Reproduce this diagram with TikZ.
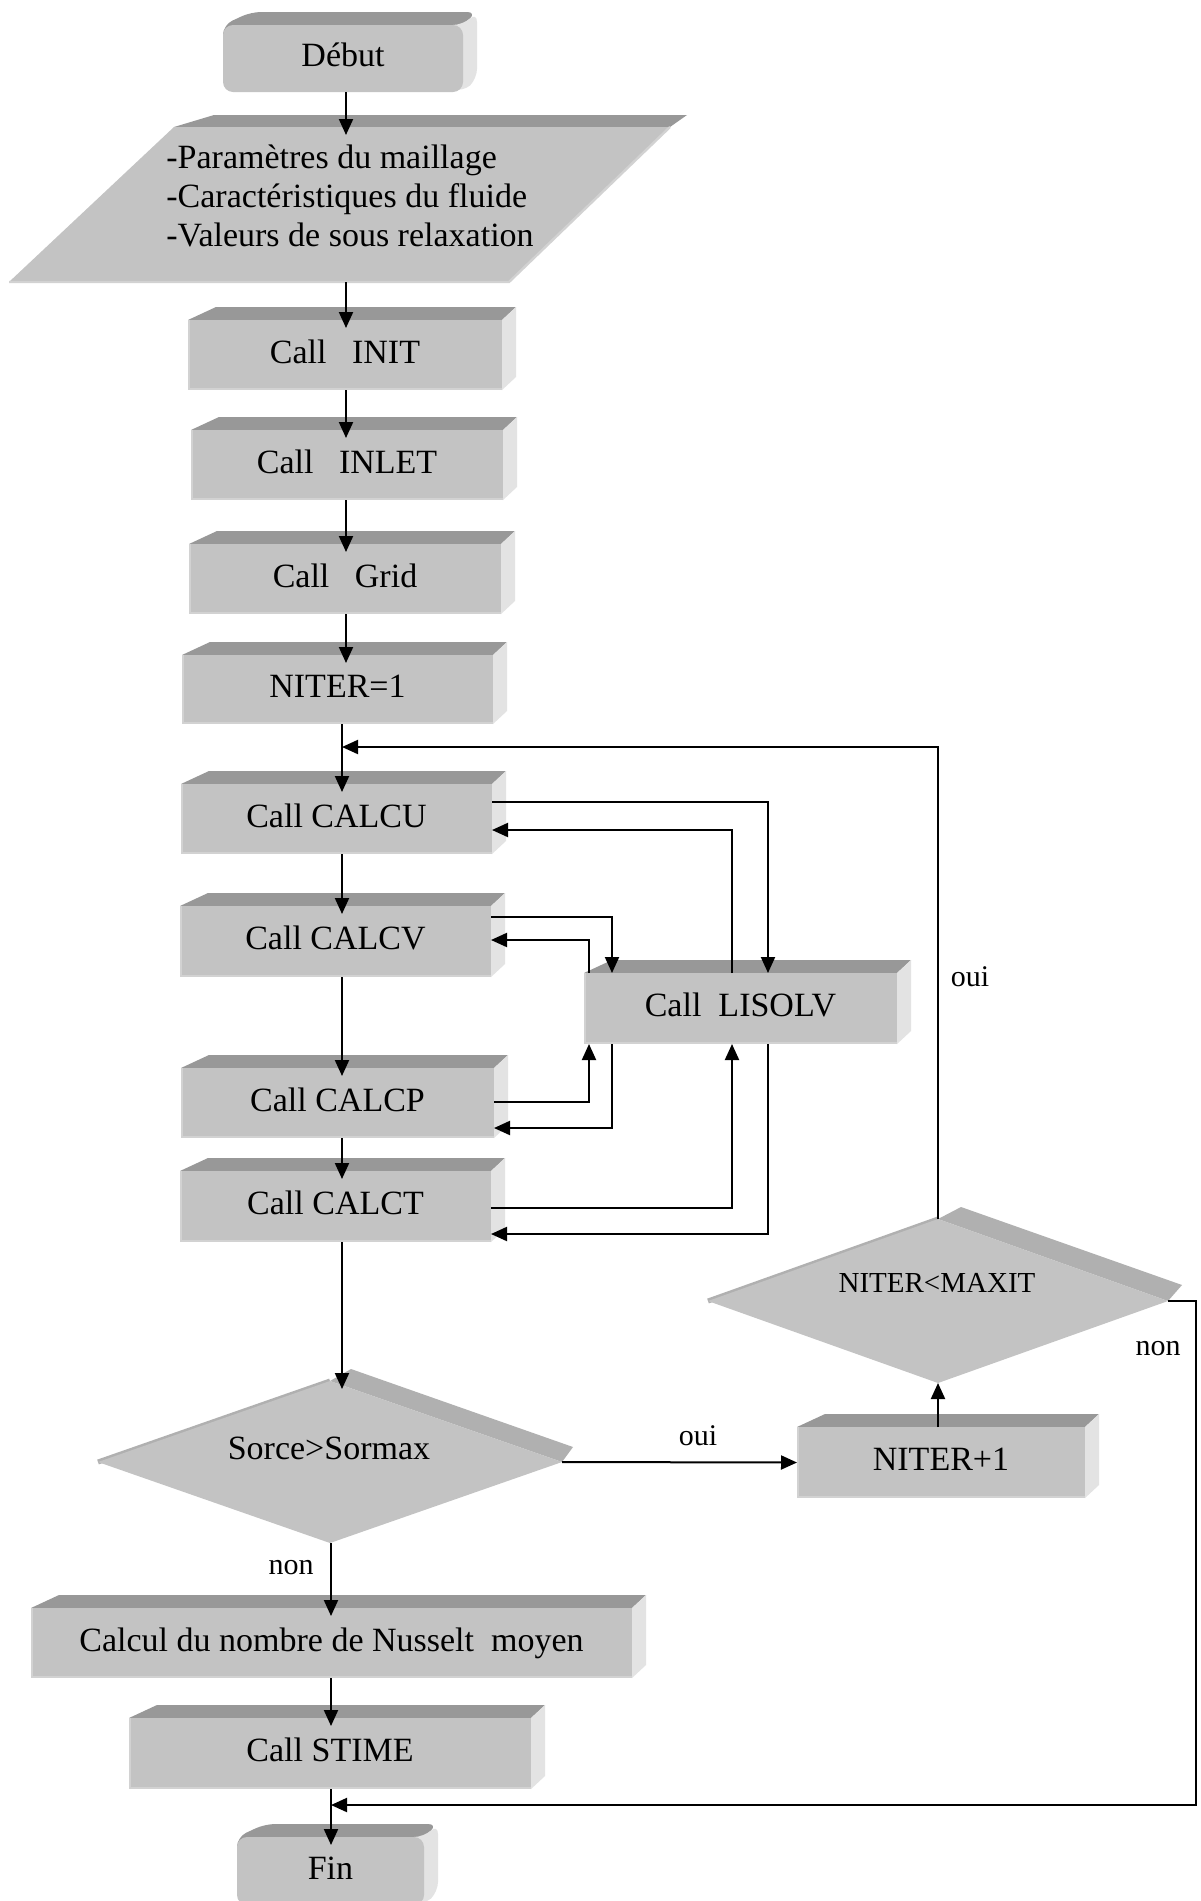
\documentclass[tikz,border=0pt]{standalone}
\usepackage{fontspec}
\setmainfont{Liberation Serif}
\usetikzlibrary{arrows.meta,shapes.geometric}
\pgfdeclarelayer{back}
\pgfsetlayers{back,main}
\definecolor{frontgray}{HTML}{C3C3C3}
\definecolor{topgray}{HTML}{989898}
\definecolor{sidegray}{HTML}{E3E3E3}
\definecolor{ridgegray}{HTML}{B0B0B0}
\definecolor{edgegray}{HTML}{D2D2D2}

\tikzset{
  face/.style={fill=frontgray, draw=none, inner sep=0pt, outer sep=0pt},
  sz/.style 2 args={minimum width=#1*0.5pt, minimum height=#2*0.5pt},
  stepbox/.style={face, rectangle, text height=12pt, text depth=4pt,
    font=\fontsize{17pt}{20pt}\selectfont},
  roundbox/.style={stepbox, rounded corners=5pt},
  testbox/.style={face, diamond},
  iofield/.style={rectangle, inner sep=0pt, outer sep=0pt},
  txt/.style={inner sep=0pt, font=\fontsize{17pt}{19.7pt}\selectfont},
  smalltxt/.style={inner sep=0pt, font=\fontsize{14.5pt}{17pt}\selectfont},
  lbl/.style={inner sep=0pt, font=\fontsize{15pt}{18pt}\selectfont},
  link/.style={line width=1pt},
  arr/.style={link, -{Triangle[length=8pt,width=7pt]}},
  into/.style={arr, shorten >=-4pt},
  rim/.style={edgegray, line width=1pt},
}

% top and right faces of an extruded box
\newcommand{\cubefaces}[2][]{%
  \fill[topgray,#1] (#2.west) -- (#2.north west) -- ++(28,-13)
    -- ([shift={(14,-13)}]#2.north east) -- (#2.north east) -- (#2.center) -- cycle;
  \fill[sidegray,#1] (#2.north) -- (#2.north east) -- ++(14,-13)
    -- ([shift={(14,-13)}]#2.south east) -- (#2.south east) -- (#2.center) -- cycle;
}
% light rim along the left and lower edges of a front face
\newcommand{\cuberim}[1]{%
  \draw[rim] ([shift={(1,0)}]#1.north west) -- ([shift={(1,-1)}]#1.south west)
    -- ([shift={(0,-1)}]#1.south east);
}
% raised edge of a decision diamond
\newcommand{\diamondfaces}[4]{%
  \fill[ridgegray] (#1.north) -- ++(#2,-12) -- ([shift={(#3,-#4)}]#1.east) -- (#1.east) -- cycle;
  \draw[ridgegray, line width=2.5pt] (#1.west) -- (#1.north);
}

\begin{document}
\begin{tikzpicture}[x=0.5pt,y=-0.5pt]
\useasboundingbox (0,0) rectangle (1200,1901);

% guide columns and rows for the connectors
\coordinate (sp1) at (346,0);
\coordinate (sp2) at (342,0);
\coordinate (sp3) at (331,0);
\coordinate (colA) at (589,0);
\coordinate (colB) at (612,0);
\coordinate (colC) at (732,0);
\coordinate (colD) at (768,0);
\coordinate (loopy) at (0,747);
\coordinate (nonc) at (1196,1805);

% blocks
\node[roundbox, sz={240}{67}] (debut) at (343,58.5) {Début};
\node[iofield, sz={661}{155}] (param) at (339.5,204.5) {};
\node[stepbox, sz={314}{70}] (init) at (345,355) {Call\ \ \ INIT};
\node[stepbox, sz={312}{70}] (inlet) at (347,465) {Call\ \ \ INLET};
\node[stepbox, sz={312}{70}] (grid) at (345,579) {Call\ \ \ Grid};
\node[stepbox, sz={311}{69}] (niter1) at (337.5,689.5) {NITER=1};
\node[stepbox, sz={311}{70}] (calcu) at (336.5,819) {Call CALCU};
\node[stepbox, sz={311}{71}] (calcv) at (335.5,941.5) {Call CALCV};
\node[stepbox, sz={313}{71}] (lisolv) at (740.5,1008.5) {Call\ \ LISOLV};
\node[stepbox, sz={313}{70}] (calcp) at (337.5,1103) {Call CALCP};
\node[stepbox, sz={311}{71}] (calct) at (335.5,1206.5) {Call CALCT};
\node[testbox, sz={464}{162}] (cond1) at (330,1462) {};
\node[stepbox, sz={288}{71}] (niterp) at (941,1462.5) {NITER+1};
\node[testbox, sz={460}{164}] (cond2) at (938,1301) {};
\node[stepbox, sz={601}{70}] (nuss) at (331.5,1643) {Calcul du nombre de Nusselt\ \ moyen};
\node[stepbox, sz={402}{71}] (stime) at (330,1753.5) {Call STIME};
\node[roundbox, sz={187}{68}] (fin) at (330.5,1871) {Fin};

% data block: slanted input shape drawn inside its field
\begin{pgfonlayer}{back}
  \fill[white] (0,0) rectangle (1200,1901);
  \fill[topgray] ([xshift=82.5pt]param.north west) -- ++(40,-12)
    -- ([shift={(17,-12)}]param.north east) -- (param.north east) -- cycle;
  \fill[frontgray] (param.south west) -- ([xshift=82.5pt]param.north west)
    -- (param.north east) -- ([xshift=-80.5pt]param.south east) -- cycle;
  \draw[edgegray, line width=1.2pt] (param.north east)
    -- ([xshift=-80.5pt]param.south east) -- (param.south west);
\end{pgfonlayer}
\node[txt, align=left, anchor=west] (paramtext) at (166,196)
  {-Paramètres du maillage\\-Caractéristiques du fluide\\-Valeurs de sous relaxation};
\node[txt] (cond1text) at (329,1448) {Sorce>Sormax};
\node[smalltxt] (cond2text) at (937,1283) {NITER<MAXIT};

% extruded faces behind the blocks, rims on their fronts
\begin{pgfonlayer}{back}
  \cubefaces[rounded corners=5pt]{debut}
  \cubefaces[rounded corners=5pt]{fin}
  \foreach \b in {init,inlet,grid,niter1,calcu,calcv,lisolv,calcp,calct,niterp,nuss,stime}
    {\cubefaces{\b}}
  \diamondfaces{cond1}{21}{11}{15}
  \diamondfaces{cond2}{23}{14}{16}
\end{pgfonlayer}
\foreach \b in {init,inlet,grid,niter1,calcu,calcv,lisolv,calcp,calct,niterp,nuss,stime}
  {\cuberim{\b}}

% main sequence
\draw[into] (debut.south -| sp1) -- (sp1 |- param.north);
\draw[into] (param.south -| sp1) -- (sp1 |- init.north);
\draw[into] (init.south -| sp1) -- (sp1 |- inlet.north);
\draw[into] (inlet.south -| sp1) -- (sp1 |- grid.north);
\draw[into] (grid.south -| sp1) -- (sp1 |- niter1.north);
\draw[into] (niter1.south -| sp2) -- (sp2 |- calcu.north);
\draw[into] (calcu.south -| sp2) -- (sp2 |- calcv.north);
\draw[into] (calcv.south -| sp2) -- (sp2 |- calcp.north);
\draw[into] (calcp.south -| sp2) -- (sp2 |- calct.north);
\draw[into] (calct.south -| sp2) -- (sp2 |- cond1.north);
\draw[into] (cond1.south -| sp3) -- (sp3 |- nuss.north);
\draw[into] (nuss.south -| sp3) -- (sp3 |- stime.north);
\draw[into] (stime.south -| sp3) -- (sp3 |- fin.north);

% exchanges with the linear solver
\draw[arr] ([yshift=-9pt]calcu.north east) -| (colD |- lisolv.north);
\draw[arr] (colC |- lisolv.north) |- ([yshift=-23pt]calcu.north east);
\draw[arr] ([yshift=-5.5pt]calcv.north east) -| (colB |- lisolv.north);
\draw[arr] (colA |- lisolv.north) |- ([yshift=-17pt]calcv.north east);
\draw[arr] ([yshift=-17pt]calcp.north east) -| (colA |- lisolv.south);
\draw[arr] (colB |- lisolv.south) |- ([yshift=-30pt]calcp.north east);
\draw[arr] ([yshift=-18.5pt]calct.north east) -| (colC |- lisolv.south);
\draw[arr] (colD |- lisolv.south) |- ([yshift=-31.5pt]calct.north east);

% convergence tests
\draw[arr] (cond1.east) -- (niterp.west);
\draw[arr] (niterp.north -| cond2.south) -- (cond2.south);
\draw[arr] (cond2.north) |- (sp2 |- loopy);
\draw[arr] (cond2.east) -| (nonc) -- (sp3 |- nonc);

% branch labels
\node[lbl] (ouiloop) at (970,977) {oui};
\node[lbl] (nonend) at (1158,1349) {non};
\node[lbl] (ouinext) at (698,1436) {oui};
\node[lbl] (nonexit) at (291,1568) {non};
\end{tikzpicture}
\end{document}
